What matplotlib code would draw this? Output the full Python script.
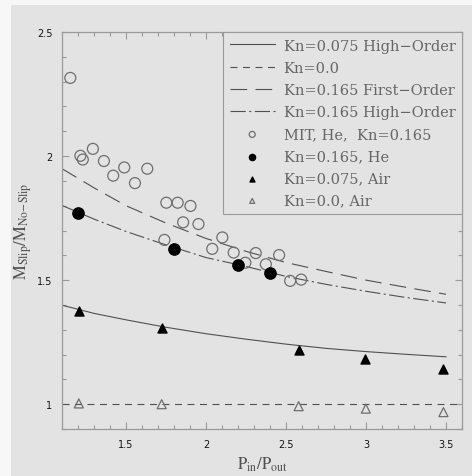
import matplotlib
matplotlib.use('Agg')
import matplotlib.pyplot as plt
from matplotlib.patches import Rectangle
from matplotlib.ticker import MultipleLocator

# Model curves (mass-flow ratio vs. pressure ratio)
x_curve = [1.1, 1.3, 1.5, 1.75, 2.0, 2.25, 2.5, 2.75, 3.0, 3.25, 3.5]
kn075_high = [1.399, 1.366, 1.340, 1.310, 1.284, 1.262, 1.242, 1.225, 1.212, 1.201, 1.191]
kn165_first = [1.949, 1.872, 1.800, 1.730, 1.668, 1.616, 1.571, 1.535, 1.500, 1.471, 1.443]
kn165_high = [1.801, 1.746, 1.696, 1.642, 1.591, 1.555, 1.515, 1.483, 1.455, 1.430, 1.408]
x_noslip = [1.1, 3.6]
kn0 = [1.0, 1.0]

# MIT helium measurements, Kn=0.165
mit_x = [1.152, 1.215, 1.230, 1.293, 1.362, 1.420, 1.489, 1.556, 1.633, 1.752,
         1.823, 1.903, 1.857, 1.953, 1.740, 2.102, 2.039, 2.173, 2.246, 2.311,
         2.374, 2.457, 2.526, 2.595]
mit_y = [2.315, 2.001, 1.986, 2.029, 1.980, 1.921, 1.954, 1.891, 1.949, 1.812,
         1.812, 1.799, 1.733, 1.726, 1.662, 1.672, 1.626, 1.611, 1.570, 1.609,
         1.564, 1.601, 1.497, 1.502]

# simulation points
he165_x = [1.202, 1.803, 2.202, 2.400]
he165_y = [1.772, 1.627, 1.560, 1.529]
air075_x = [1.205, 1.723, 2.579, 2.995, 3.484]
air075_y = [1.376, 1.308, 1.219, 1.181, 1.141]
air0_x = [1.205, 1.723, 2.579, 2.999, 3.484]
air0_y = [1.003, 1.000, 0.992, 0.982, 0.968]

BG = '#e3e3e3'
EDGE = '#9a9a9a'
LINE = '#505050'
OPEN = '#6e6e6e'

plt.rcParams['mathtext.fontset'] = 'stix'
plt.rcParams['lines.scale_dashes'] = False

fig = plt.figure(figsize=(4.72, 4.77), dpi=100, facecolor='#f7f7f7')
fig.patches.append(Rectangle((11 / 472, 0), 1 - 11 / 472, 1 - 6 / 477,
                             transform=fig.transFigure, facecolor=BG,
                             edgecolor='none', zorder=-10))
ax = fig.add_axes([62 / 472, 1 - 430 / 477, 400 / 472, 397 / 477])
ax.set_facecolor(BG)

ax.plot(x_curve, kn075_high, color=LINE, lw=0.8, ls='-',
        label='Kn=0.075 High\u2212Order')
ax.plot(x_noslip, kn0, color=LINE, lw=0.8, ls=(0, (5, 4)),
        label='Kn=0.0')
ax.plot(x_curve, kn165_first, color=LINE, lw=0.8, ls=(0, (12, 6)),
        label='Kn=0.165 First\u2212Order')
ax.plot(x_curve, kn165_high, color=LINE, lw=0.8, ls=(0, (11, 2.5, 1.5, 2.5)),
        label='Kn=0.165 High\u2212Order')
ax.scatter(mit_x, mit_y, s=62, facecolors='none', edgecolors=OPEN,
           linewidths=0.9, label='MIT, He,  Kn=0.165', zorder=3)
ax.scatter(he165_x, he165_y, s=66, color='black', label='Kn=0.165, He',
           zorder=4)
ax.scatter(air075_x, air075_y, s=42, marker='^', color='black',
           label='Kn=0.075, Air', zorder=4)
ax.scatter(air0_x, air0_y, s=42, marker='^', facecolors='none',
           edgecolors=OPEN, linewidths=0.9, label='Kn=0.0, Air', zorder=3)

ax.set_xlim(1.1, 3.6)
ax.set_ylim(0.9, 2.5)
ax.xaxis.set_minor_locator(MultipleLocator(0.1))
ax.yaxis.set_minor_locator(MultipleLocator(0.1))
ax.set_xticks([1.5, 2, 2.5, 3, 3.5])
ax.set_xticklabels(['1.5', '2', '2.5', '3', '3.5'])
ax.set_yticks([1, 1.5, 2, 2.5])
ax.set_yticklabels(['1', '1.5', '2', '2.5'])
ax.tick_params(which='both', direction='in', top=True, right=True,
               color=EDGE, width=0.8, labelsize=7, labelcolor='#151515')
ax.tick_params(which='major', length=5, pad=7)
ax.tick_params(which='minor', length=3)
for sp in ax.spines.values():
    sp.set_color(EDGE)
    sp.set_linewidth(0.9)

ax.set_xlabel(r'$\mathrm{P_{in}/P_{out}}$', fontsize=12, color='#505050',
              labelpad=4)
ax.set_ylabel(r'$\mathrm{M_{Slip}/M_{No\!-\!Slip}}$', fontsize=12,
              color='#505050', labelpad=2)

leg = ax.legend(loc='upper right', bbox_to_anchor=(1, 1), borderaxespad=0,
                prop={'family': 'DejaVu Serif', 'size': 10.5},
                labelcolor='#666666', frameon=True, fancybox=False,
                facecolor=BG, edgecolor=EDGE, framealpha=1,
                handlelength=3.1, handletextpad=0.6, borderpad=0.45,
                labelspacing=0.56, markerscale=0.55)
leg.get_frame().set_linewidth(0.8)

fig.savefig('out.png', dpi=100, facecolor=fig.get_facecolor())
